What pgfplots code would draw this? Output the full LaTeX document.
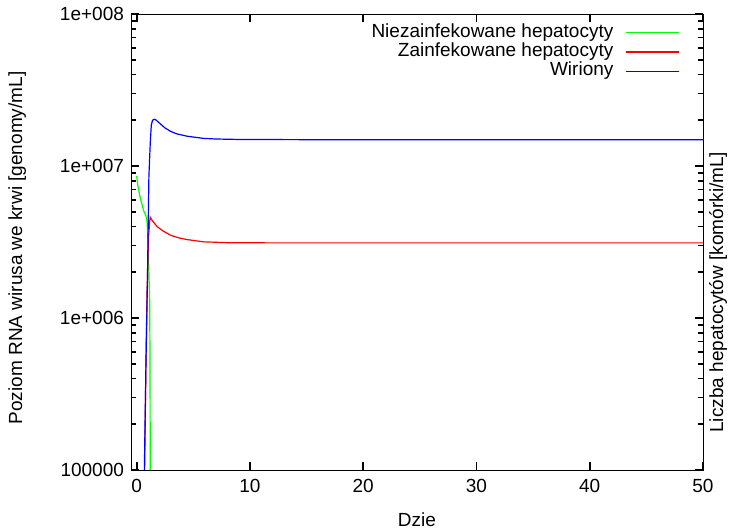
\documentclass[border=0pt]{standalone}
\usepackage{pgfplots}
\pgfplotsset{compat=1.18}
\usepackage{fontspec}
\setmainfont{Liberation Sans}
\newcommand{\gfont}{\fontsize{9.5}{11}\selectfont}

% green: uninfected hepatocytes, red: infected, blue: virions
\pgfplotstableread{
x y
0.00 8.6e6
0.10 7.5e6
0.29 6.3e6
0.61 5.1e6
0.82 4.7e6
0.92 4.3e6
1.00 3.2e6
1.08 2.0e6
1.15 1.3e6
1.18 5e5
1.20 1e5
1.22 1e4
}\uninf
\pgfplotstableread{
x y
0.50 2e4
0.70 1e5
0.82 5e5
0.92 1.5e6
1.05 3.4e6
1.15 4.3e6
1.20 4.6e6
1.40 4.35e6
1.80 4.0e6
2.30 3.75e6
3.00 3.5e6
3.70 3.37e6
4.45 3.28e6
5.90 3.17e6
8.00 3.13e6
12.0 3.12e6
50.0 3.12e6
}\inf
\pgfplotstableread{
x y
0.50 2e4
0.68 1e5
0.82 5e5
0.94 1.55e6
1.08 8.5e6
1.20 1.41e7
1.29 1.85e7
1.40 2.0e7
1.55 2.03e7
1.70 2.01e7
2.10 1.89e7
2.50 1.78e7
3.00 1.69e7
3.50 1.63e7
4.45 1.57e7
5.90 1.52e7
7.00 1.505e7
9.00 1.495e7
15.0 1.49e7
50.0 1.49e7
}\vir

\begin{document}
\begin{tikzpicture}
\begin{axis}[
  at={(0pt,0pt)}, anchor=south west,
  scale only axis,
  width=286pt, height=228pt,
  ymode=log,
  xmin=-0.5, xmax=50,
  ymin=1e5, ymax=1e8,
  xtick={0,10,20,30,40,50},
  ytick={1e5,1e6,1e7,1e8},
  yticklabels={100000,1e+006,1e+007,1e+008},
  minor ytick={2e5,3e5,4e5,5e5,6e5,7e5,8e5,9e5,
               2e6,3e6,4e6,5e6,6e6,7e6,8e6,9e6,
               2e7,3e7,4e7,5e7,6e7,7e7,8e7,9e7},
  /pgf/number format/assume math mode=true,
  tick label style={font=\gfont},
  xticklabel style={yshift=-1.2pt},
  label style={font=\gfont},
  tick align=inside,
  major tick length=4pt,
  minor tick length=2.6pt,
  tick style={black, line width=0.9pt},
  xlabel={Dzie},
  ylabel={Poziom RNA wirusa we krwi [genomy/mL]},
  x label style={at={(axis description cs:0.5,-0.11)}, anchor=center},
  y label style={at={(axis description cs:-0.199,0.487)}, anchor=center, rotate=0},
  legend plot pos=right,
  legend cell align=right,
  legend image code/.code={\draw[#1] (0pt,0pt) -- (26.5pt,0pt);},
  legend style={at={(rel axis cs:1,1)}, anchor=north east,
                xshift=-11.5pt, yshift=-4.4pt,
                draw=none, fill=none, inner sep=0pt,
                row sep=0pt, column sep=6pt, font=\gfont,
                nodes={inner sep=0pt, text height=7pt, text depth=2.6pt}},
]
\addplot[color={rgb,255:red,0;green,255;blue,0}, line width=0.6pt] table {\uninf};
\addlegendentry{Niezainfekowane hepatocyty}
\addplot[color={rgb,255:red,255;green,0;blue,0}, line width=0.6pt] table {\inf};
\addlegendentry{Zainfekowane hepatocyty}
\addplot[color={rgb,255:red,0;green,0;blue,255}, line width=0.6pt] table {\vir};
\addlegendentry{Wiriony}
\end{axis}
\node[font=\gfont, rotate=90, anchor=center] at (293.5pt,88.9pt)
  {Liczba hepatocytów [komórki/mL]};
\pgfresetboundingbox
\useasboundingbox (-65.5pt,-30.5pt) rectangle (301.5pt,235pt);
\end{tikzpicture}
\end{document}
